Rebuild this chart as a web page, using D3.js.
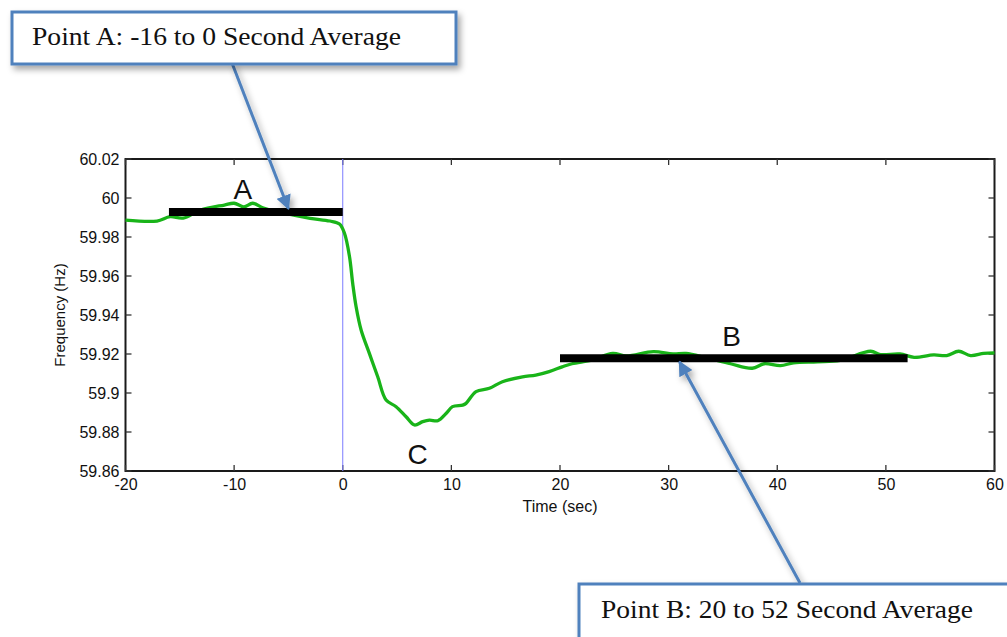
<!DOCTYPE html>
<html><head><meta charset="utf-8">
<script src="https://cdn.jsdelivr.net/npm/d3@7"></script>
<style>body{margin:0;background:#fff;} svg{display:block;}</style>
</head><body>
<svg id="c" width="1007" height="637"></svg>
<script>
const xTicks = [-20,-10,0,10,20,30,40,50,60];
const yTicks = [59.86,59.88,59.9,59.92,59.94,59.96,59.98,60,60.02];
const yTickLabels = ["59.86","59.88","59.9","59.92","59.94","59.96","59.98","60","60.02"];
const xTickLabels = ["-20","-10","0","10","20","30","40","50","60"];
const timeSec = [-20,-17.1,-15.9,-14.7,-13.1,-10.9,-10.0,-9.1,-8.3,-7.3,-5.5,-3.0,-1.2,-0.3,0.16,0.62,0.92,1.23,1.69,2.45,3.22,3.99,4.91,5.83,6.6,7.36,7.98,8.75,9.51,10.1,11.04,11.35,12.27,13.5,14.7,16.55,17.77,19.0,20.2,21.1,23.0,24.86,26.1,28.6,30.4,31.6,33.5,35.7,37.7,38.8,40.3,41.5,43.7,45.8,48.6,49.5,51.3,52.6,54.4,55.6,56.7,57.8,59.0,60];
const freqHz = [59.9887,59.9882,59.9904,59.9897,59.9938,59.9964,59.9973,59.9955,59.9973,59.9949,59.9923,59.9896,59.9882,59.9867,59.9819,59.970,59.956,59.9442,59.9323,59.9203,59.9083,59.8964,59.893,59.8878,59.8836,59.8853,59.8861,59.8858,59.8895,59.893,59.8938,59.8947,59.9007,59.9024,59.9058,59.9083,59.9092,59.911,59.9134,59.915,59.917,59.9203,59.919,59.9212,59.92,59.9203,59.918,59.915,59.9127,59.915,59.914,59.9155,59.916,59.9167,59.9214,59.9197,59.92,59.9183,59.9195,59.9192,59.9214,59.9192,59.9203,59.9206];
const avgBars = [{name:"A", x0:-16, x1:0, y:59.9928}, {name:"B", x0:20, x1:52, y:59.9178}];
const pointLabels = [{t:"A", x:-9.2, y:59.9995}, {t:"B", x:35.8, y:59.9243}, {t:"C", x:6.9, y:59.8638}];
const callouts = [
  {text:"Point A: -16 to 0 Second Average", box:[12,12,444,52], tx:32, ty:45, tw:369, from:[232,63], tipX:-5.0, tipY:59.9945},
  {text:"Point B: 20 to 52 Second Average", box:[579,584,440,70], tx:601, ty:618, tw:372, from:[800,583], tipX:31.0, tipY:59.916}
];

const svg = d3.select("#c");
const x = d3.scaleLinear().domain([-20,60]).range([125.5,994.5]);
const y = d3.scaleLinear().domain([59.86,60.02]).range([471,159]);

const defs = svg.append("defs");
const f = defs.append("filter").attr("id","sh").attr("x","-10%").attr("y","-20%").attr("width","130%").attr("height","160%");
f.append("feDropShadow").attr("dx",3).attr("dy",4).attr("stdDeviation",3).attr("flood-color","#000").attr("flood-opacity",0.35);
defs.append("marker").attr("id","ah").attr("viewBox","0 0 10 10").attr("refX",9).attr("refY",5)
  .attr("markerWidth",5).attr("markerHeight",5).attr("orient","auto").attr("markerUnits","strokeWidth")
  .append("path").attr("d","M0,0 L10,5 L0,10 z").attr("fill","#4f81bd");

const g = svg.append("g");
g.append("rect").attr("x",x(-20)).attr("y",y(60.02)).attr("width",x(60)-x(-20)).attr("height",y(59.86)-y(60.02))
  .attr("fill","#fff").attr("stroke","#1a1a1a").attr("stroke-width",2);

const fontAx = "Arial, 'Liberation Sans', sans-serif";
const xb = g.append("g").attr("transform",`translate(0,${y(59.86)})`)
  .call(d3.axisBottom(x).tickValues(xTicks).tickSize(0).tickPadding(8).tickFormat((d,i)=>xTickLabels[i]));
xb.select(".domain").remove();
xb.selectAll("text").attr("font-family",fontAx).attr("font-size",16).attr("fill","#111");
const yl = g.append("g").attr("transform",`translate(${x(-20)},0)`)
  .call(d3.axisLeft(y).tickValues(yTicks).tickSize(0).tickPadding(6).tickFormat((d,i)=>yTickLabels[i]));
yl.select(".domain").remove();
yl.selectAll("text").attr("font-family",fontAx).attr("font-size",16).attr("fill","#111");
xTicks.forEach(v=>{
  g.append("line").attr("x1",x(v)).attr("x2",x(v)).attr("y1",y(59.86)).attr("y2",y(59.86)-6).attr("stroke","#333").attr("stroke-width",1.3);
  g.append("line").attr("x1",x(v)).attr("x2",x(v)).attr("y1",y(60.02)).attr("y2",y(60.02)+6).attr("stroke","#333").attr("stroke-width",1.3);
});
yTicks.forEach(v=>{
  g.append("line").attr("x1",x(-20)).attr("x2",x(-20)+6).attr("y1",y(v)).attr("y2",y(v)).attr("stroke","#333").attr("stroke-width",1.3);
  g.append("line").attr("x1",x(60)).attr("x2",x(60)-6).attr("y1",y(v)).attr("y2",y(v)).attr("stroke","#333").attr("stroke-width",1.3);
});

svg.append("text").attr("x",560).attr("y",512).attr("text-anchor","middle")
  .attr("font-family",fontAx).attr("font-size",16).attr("fill","#111").text("Time (sec)");
svg.append("text").attr("transform",`translate(65,${(y(59.86)+y(60.02))/2}) rotate(-90)`).attr("text-anchor","middle")
  .attr("font-family",fontAx).attr("font-size",15).attr("fill","#111").text("Frequency (Hz)");

g.append("line").attr("x1",x(0)).attr("x2",x(0)).attr("y1",y(60.02)).attr("y2",y(59.86)).attr("stroke","#7b7bff").attr("stroke-width",1);

const pts = timeSec.map((t,i)=>[t,freqHz[i]]);
g.append("path").datum(pts).attr("d",d3.line().x(d=>x(d[0])).y(d=>y(d[1])).curve(d3.curveCatmullRom))
  .attr("fill","none").attr("stroke","#19b419").attr("stroke-width",3.3).attr("stroke-linejoin","round");

g.selectAll(".bar").data(avgBars).join("line").attr("x1",d=>x(d.x0)).attr("x2",d=>x(d.x1))
  .attr("y1",d=>y(d.y)).attr("y2",d=>y(d.y)).attr("stroke","#000").attr("stroke-width",8);

g.selectAll(".pl").data(pointLabels).join("text").attr("x",d=>x(d.x)).attr("y",d=>y(d.y)).attr("text-anchor","middle")
  .attr("font-family",fontAx).attr("font-size",28).attr("fill","#111").text(d=>d.t);

callouts.forEach(c=>{
  svg.append("line").attr("x1",c.from[0]).attr("y1",c.from[1]).attr("x2",x(c.tipX)).attr("y2",y(c.tipY))
    .attr("stroke","#4f81bd").attr("stroke-width",3).attr("marker-end","url(#ah)").attr("filter","url(#sh)");
  svg.append("rect").attr("x",c.box[0]).attr("y",c.box[1]).attr("width",c.box[2]).attr("height",c.box[3])
    .attr("fill","#fff").attr("stroke","#4f81bd").attr("stroke-width",3).attr("filter","url(#sh)");
  svg.append("text").attr("x",c.tx).attr("y",c.ty).attr("font-family","'Liberation Serif','Times New Roman',serif")
    .attr("font-size",26).attr("textLength",c.tw).attr("lengthAdjust","spacingAndGlyphs").attr("fill","#111").text(c.text);
});
</script>
</body></html>
